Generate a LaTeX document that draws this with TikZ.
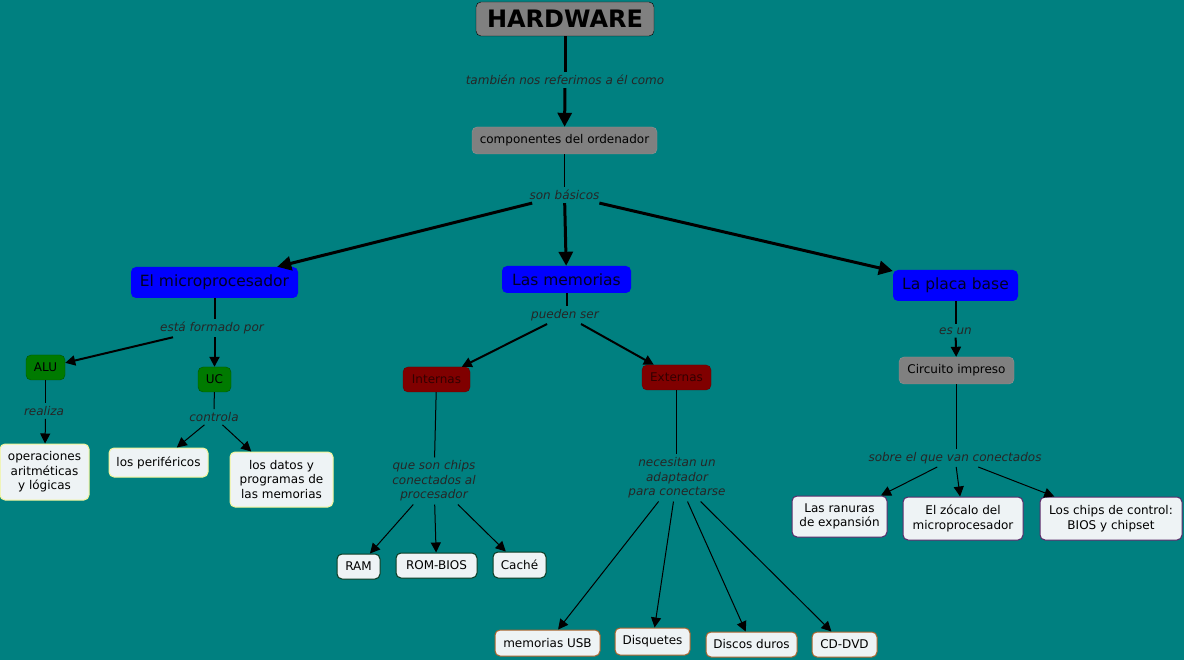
\documentclass[tikz,border=0pt]{standalone}
\usepackage{fontspec}
\setmainfont{DejaVu Sans}
\usepackage{tikz}
\usetikzlibrary{positioning,arrows.meta}
\usepackage{xcolor}
\definecolor{fondo}{HTML}{008080}
\definecolor{gris}{HTML}{808080}
\definecolor{azul}{HTML}{0000FF}
\definecolor{verde}{HTML}{007A00}
\definecolor{rojo}{HTML}{800000}
\definecolor{claro}{HTML}{EEF3F5}
\definecolor{amarillo}{HTML}{F2F59A}
\definecolor{pino}{HTML}{0B3A22}
\definecolor{marron}{HTML}{A8652E}
\definecolor{morado}{HTML}{5A2A6A}

\begin{document}
\begin{tikzpicture}[x=1pt, y=-1pt,
    every node/.style={font=\fontsize{12}{14.5}\selectfont, text=black},
    concepto/.style={rounded corners=5pt, align=center, inner sep=0pt},
    caja/.style={concepto, fill=claro, line width=1pt},
    enlace/.style={font=\fontsize{12}{14.5}\selectfont\itshape, text=black!85, align=center, inner sep=3pt},
    fino/.style={line width=1pt},
    medio/.style={line width=2pt},
    grueso/.style={line width=3pt},
    punta/.style={-{Triangle[length=10pt,width=10pt]}},
    puntagrande/.style={-{Triangle[length=14pt,width=14pt]}}]
    % 背景
    \fill[fondo] (0,0) rectangle (1184,660);
    \useasboundingbox (0,0) rectangle (1184,660);

    % 概念
    \node[concepto, draw=black, fill=gris, minimum width=178, minimum height=34,
        font=\fontsize{24}{28}\selectfont\bfseries] (hw) at (565,19) {HARDWARE};
    \node[concepto, draw=gris!85!white, fill=gris, minimum width=185, minimum height=27] (comp) at (564.5,140.5) {componentes del ordenador};
    \node[concepto, fill=azul, minimum width=167, minimum height=31, text=blue!15!black,
        font=\fontsize{15.5}{18}\selectfont] (micro) at (214.5,282.5) {El microprocesador};
    \node[concepto, fill=azul, minimum width=129, minimum height=27, text=blue!15!black,
        font=\fontsize{15.5}{18}\selectfont] (mem) at (566.5,279.5) {Las memorias};
    \node[concepto, fill=azul, minimum width=125, minimum height=31, text=blue!15!black,
        font=\fontsize{15.5}{18}\selectfont] (placa) at (955.5,285.5) {La placa base};

    \node[concepto, draw=verde!70!black, fill=verde, minimum width=39, minimum height=25] (alu) at (45.5,367.5) {ALU};
    \node[concepto, draw=verde!70!black, fill=verde, minimum width=33, minimum height=25] (uc) at (214.5,379.5) {UC};
    \node[caja, draw=amarillo, minimum width=89, minimum height=56] (oper) at (44.5,472) {operaciones\\aritméticas\\y lógicas};
    \node[caja, draw=amarillo, minimum width=99, minimum height=29] (perif) at (158.5,462.5) {los periféricos};
    \node[caja, draw=amarillo, minimum width=103, minimum height=55] (datos) at (281.5,479.5) {los datos y\\programas de\\las memorias};

    \node[concepto, draw=rojo!80!black, fill=rojo, minimum width=67, minimum height=25, text=red!20!black] (intern) at (436.5,379.5) {Internas};
    \node[concepto, draw=rojo!80!black, fill=rojo, minimum width=69, minimum height=25, text=red!20!black] (extern) at (676.5,377.5) {Externas};
    \node[caja, draw=pino, minimum width=43, minimum height=25] (ram) at (358.5,566.5) {RAM};
    \node[caja, draw=pino, minimum width=81, minimum height=25] (rom) at (436.5,565.5) {ROM-BIOS};
    \node[caja, draw=pino, minimum width=53, minimum height=26] (cache) at (519.5,565) {Caché};
    \node[caja, draw=marron, minimum width=105, minimum height=26] (usb) at (547.5,643) {memorias USB};
    \node[caja, draw=marron, minimum width=75, minimum height=27] (disq) at (652.5,641.5) {Disquetes};
    \node[caja, draw=marron, minimum width=91, minimum height=25] (discos) at (751.5,644.5) {Discos duros};
    \node[caja, draw=marron, minimum width=65, minimum height=25] (cddvd) at (844.5,644.5) {CD-DVD};

    \node[concepto, draw=gris!85!white, fill=gris, minimum width=115, minimum height=27] (circ) at (956.5,370.5) {Circuito impreso};
    \node[caja, draw=morado, minimum width=95, minimum height=41] (ranuras) at (839.5,516.5) {Las ranuras\\de expansión};
    \node[caja, draw=morado, minimum width=120, minimum height=43] (zocalo) at (963,518.5) {El zócalo del\\microprocesador};
    \node[caja, draw=morado, minimum width=142, minimum height=43] (chips) at (1111,518.5) {Los chips de control:\\BIOS y chipset};

    % 连接词
    \node[enlace] (lt) at (565,80) {también nos referimos a él como};
    \node[enlace] (lsb) at (564.5,195) {son básicos};
    \node[enlace] (lfp) at (212,328) {está formado por};
    \node[enlace] (lre) at (44,411) {realiza};
    \node[enlace] (lco) at (214,417) {controla};
    \node[enlace] (lps) at (565,315) {pueden ser};
    \node[enlace] (lqs) at (434,481) {que son chips\\conectados al\\ procesador};
    \node[enlace] (lna) at (677,478) {necesitan un\\adaptador\\ para conectarse};
    \node[enlace] (leu) at (955.5,331) {es un};
    \node[enlace] (lsq) at (955,458) {sobre el que van conectados};

    % 连线
    \draw[grueso] (hw) -- (lt);
    \draw[grueso, puntagrande] (lt) -- (comp);
    \draw[fino] (comp) -- (lsb);
    \foreach \t in {micro, mem, placa}
        \draw[grueso, puntagrande] (lsb) -- (\t);

    \draw[medio] (micro) -- (micro |- lfp.north);
    \draw[medio, punta] (lfp) -- (alu);
    \draw[medio, punta] (lfp.south -| uc) -- (uc);
    \draw[fino] (alu) -- (alu |- lre.north);
    \draw[fino, punta] (lre.south -| alu) -- (oper);
    \draw[fino] (uc) -- (lco);
    \draw[fino, punta] (lco) -- (perif);
    \draw[fino, punta] (lco) -- (datos);

    \draw[medio] (mem) -- (mem |- lps.north);
    \draw[medio, punta] (lps) -- (intern);
    \draw[medio, punta] (lps) -- (extern);
    \draw[fino] (intern) -- (lqs);
    \foreach \t in {ram, rom, cache}
        \draw[fino, punta] (lqs) -- (\t);
    \draw[fino] (extern) -- (extern |- lna.north);
    \foreach \t in {usb, disq, discos, cddvd}
        \draw[fino, punta] (lna) -- (\t);

    \draw[medio] (placa) -- (leu);
    \draw[medio, punta] (leu) -- (circ);
    \draw[fino] (circ) -- (circ |- lsq.north);
    \foreach \t in {ranuras, zocalo, chips}
        \draw[fino, punta] (lsq) -- (\t);
\end{tikzpicture}
\end{document}
